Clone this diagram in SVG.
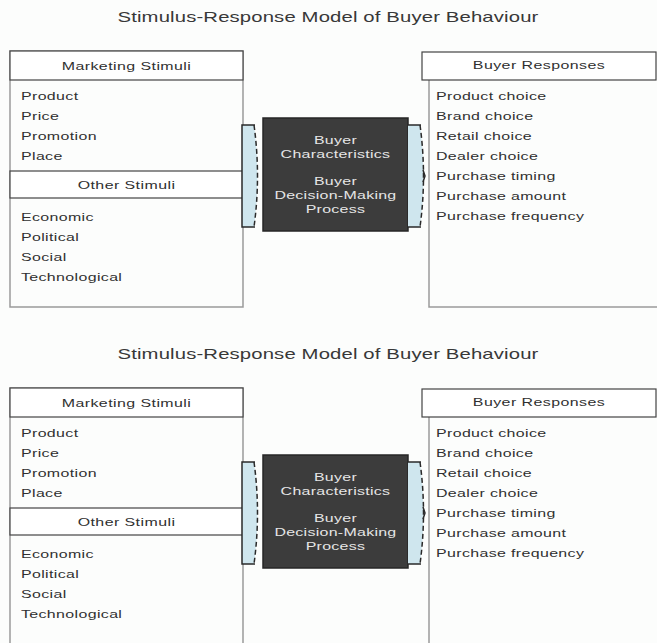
<svg xmlns="http://www.w3.org/2000/svg" width="657" height="643" viewBox="0 0 657 643">
<style>
text{font-family:"Liberation Sans",Arial,sans-serif;fill:#303030}
.title{font-size:14px;letter-spacing:0.1px;text-anchor:middle;fill:#383838}
.hdr{font-size:11px;letter-spacing:0.3px;text-anchor:middle}
.item{font-size:11px;letter-spacing:0.25px}
.inner{font-size:11px;letter-spacing:0.2px;text-anchor:middle;fill:#e6e6e6}
.body{fill:none;stroke:#9a9a9a;stroke-width:1.5}
.hbox{fill:#fff;stroke:#444;stroke-width:1.2}
.dark{fill:#3c3c3c;stroke:#262626;stroke-width:1.5}
.brk{fill:#cfe6ee;stroke:none}
.solid{fill:none;stroke:#2a2a2a;stroke-width:1.5}
.dash{fill:none;stroke:#2a2a2a;stroke-width:1.5;stroke-dasharray:5 3}
</style>
<rect x="0" y="0" width="657" height="643" fill="#fcfdfc"/>

<g id="diagram1">
  <g transform="matrix(1.45,0,0,1,-147.6,0)"><text class="title" x="328" y="22">Stimulus-Response Model of Buyer Behaviour</text></g>
  <g id="stimuli1">
    <rect class="body" x="10" y="51" width="233" height="256"/>
    <rect class="hbox" x="10" y="51" width="233" height="29"/>
    <rect class="hbox" x="10" y="171" width="233" height="27"/>
    <g transform="matrix(1.45,0,0,1,-56.9,0)">
      <text class="hdr" x="126.5" y="70">Marketing Stimuli</text>
      <text class="hdr" x="126.5" y="189">Other Stimuli</text>
    </g>
    <g transform="matrix(1.45,0,0,1,-9.45,0)">
      <text class="item" x="21" y="100">Product</text>
      <text class="item" x="21" y="120">Price</text>
      <text class="item" x="21" y="140">Promotion</text>
      <text class="item" x="21" y="160">Place</text>
      <text class="item" x="21" y="221">Economic</text>
      <text class="item" x="21" y="241">Political</text>
      <text class="item" x="21" y="261">Social</text>
      <text class="item" x="21" y="281">Technological</text>
    </g>
  </g>
  <g id="buyer1">
    <rect class="dark" x="263" y="118" width="145" height="113"/>
    <g transform="matrix(1.45,0,0,1,-151,0)">
      <text class="inner" x="335.5" y="144">Buyer</text>
      <text class="inner" x="335.5" y="158">Characteristics</text>
      <text class="inner" x="335.5" y="185">Buyer</text>
      <text class="inner" x="335.5" y="199">Decision-Making</text>
      <text class="inner" x="335.5" y="213">Process</text>
    </g>
  </g>
  <g id="responses1">
    <path class="body" d="M429,80 V307 H660"/>
    <rect class="hbox" x="422" y="52" width="234" height="28"/>
    <g transform="matrix(1.45,0,0,1,-242.55,0)"><text class="hdr" x="539" y="69">Buyer Responses</text></g>
    <g transform="matrix(1.45,0,0,1,-196.2,0)">
      <text class="item" x="436" y="100">Product choice</text>
      <text class="item" x="436" y="120">Brand choice</text>
      <text class="item" x="436" y="140">Retail choice</text>
      <text class="item" x="436" y="160">Dealer choice</text>
      <text class="item" x="436" y="180">Purchase timing</text>
      <text class="item" x="436" y="200">Purchase amount</text>
      <text class="item" x="436" y="220">Purchase frequency</text>
    </g>
  </g>
  <g id="connectors1">
    <path class="brk" d="M242,125 H254 Q261,176 254,227 H242 Z"/>
    <path class="solid" d="M255,125 H242 V227 H255"/>
    <path class="dash" d="M254,125 Q261,176 254,227"/>
    <path class="brk" d="M408,125 H420 Q427,176 420,227 H408 Z"/>
    <path class="solid" d="M408,125 H421 M408,227 H421"/>
    <path class="dash" d="M420,125 Q427,176 420,227"/>
    <path class="solid" d="M423,170 L425,176 L423,182"/>
  </g>
</g>

<g id="diagram2" transform="translate(0,337)">
  <g transform="matrix(1.45,0,0,1,-147.6,0)"><text class="title" x="328" y="22">Stimulus-Response Model of Buyer Behaviour</text></g>
  <g id="stimuli2">
    <rect class="body" x="10" y="51" width="233" height="256"/>
    <rect class="hbox" x="10" y="51" width="233" height="29"/>
    <rect class="hbox" x="10" y="171" width="233" height="27"/>
    <g transform="matrix(1.45,0,0,1,-56.9,0)">
      <text class="hdr" x="126.5" y="70">Marketing Stimuli</text>
      <text class="hdr" x="126.5" y="189">Other Stimuli</text>
    </g>
    <g transform="matrix(1.45,0,0,1,-9.45,0)">
      <text class="item" x="21" y="100">Product</text>
      <text class="item" x="21" y="120">Price</text>
      <text class="item" x="21" y="140">Promotion</text>
      <text class="item" x="21" y="160">Place</text>
      <text class="item" x="21" y="221">Economic</text>
      <text class="item" x="21" y="241">Political</text>
      <text class="item" x="21" y="261">Social</text>
      <text class="item" x="21" y="281">Technological</text>
    </g>
  </g>
  <g id="buyer2">
    <rect class="dark" x="263" y="118" width="145" height="113"/>
    <g transform="matrix(1.45,0,0,1,-151,0)">
      <text class="inner" x="335.5" y="144">Buyer</text>
      <text class="inner" x="335.5" y="158">Characteristics</text>
      <text class="inner" x="335.5" y="185">Buyer</text>
      <text class="inner" x="335.5" y="199">Decision-Making</text>
      <text class="inner" x="335.5" y="213">Process</text>
    </g>
  </g>
  <g id="responses2">
    <path class="body" d="M429,80 V307 H660"/>
    <rect class="hbox" x="422" y="52" width="234" height="28"/>
    <g transform="matrix(1.45,0,0,1,-242.55,0)"><text class="hdr" x="539" y="69">Buyer Responses</text></g>
    <g transform="matrix(1.45,0,0,1,-196.2,0)">
      <text class="item" x="436" y="100">Product choice</text>
      <text class="item" x="436" y="120">Brand choice</text>
      <text class="item" x="436" y="140">Retail choice</text>
      <text class="item" x="436" y="160">Dealer choice</text>
      <text class="item" x="436" y="180">Purchase timing</text>
      <text class="item" x="436" y="200">Purchase amount</text>
      <text class="item" x="436" y="220">Purchase frequency</text>
    </g>
  </g>
  <g id="connectors2">
    <path class="brk" d="M242,125 H254 Q261,176 254,227 H242 Z"/>
    <path class="solid" d="M255,125 H242 V227 H255"/>
    <path class="dash" d="M254,125 Q261,176 254,227"/>
    <path class="brk" d="M408,125 H420 Q427,176 420,227 H408 Z"/>
    <path class="solid" d="M408,125 H421 M408,227 H421"/>
    <path class="dash" d="M420,125 Q427,176 420,227"/>
    <path class="solid" d="M423,170 L425,176 L423,182"/>
  </g>
</g>
</svg>
